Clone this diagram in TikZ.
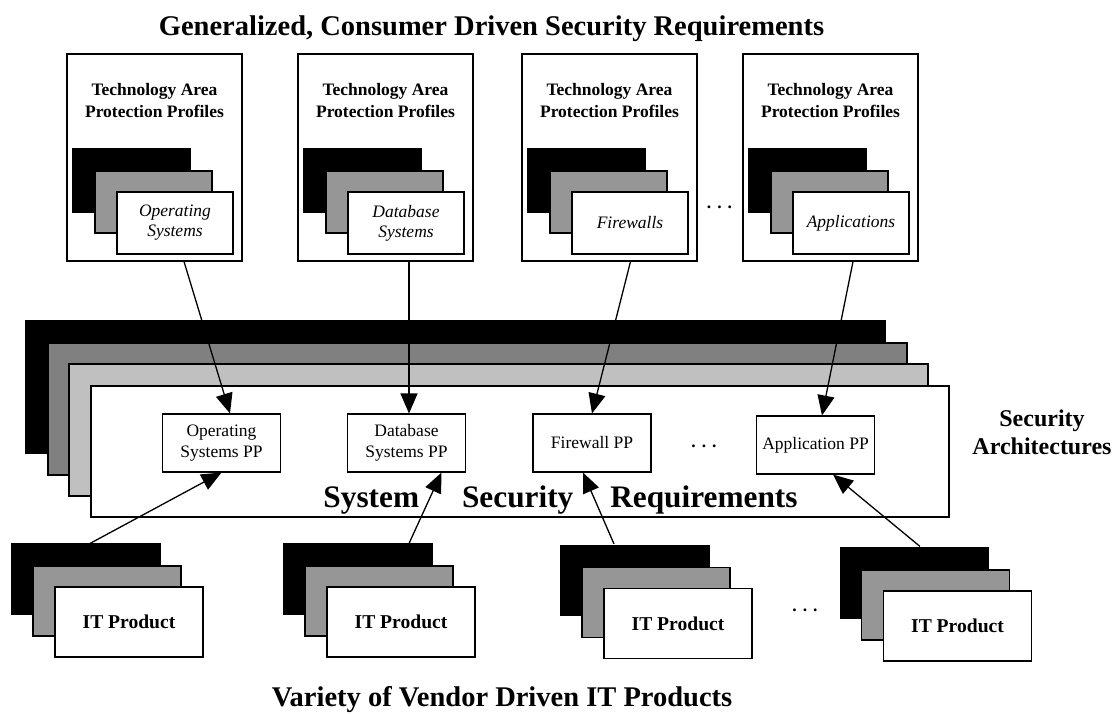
\documentclass[tikz,border=0pt]{standalone}
\usepackage{fontspec}
\setmainfont{Liberation Serif}
\usepackage{tikz}
\usetikzlibrary{arrows.meta}
\definecolor{card-gray}{RGB}{150,150,150}
\definecolor{layer-gray}{RGB}{128,128,128}
\definecolor{layer-light}{RGB}{192,192,192}
\tikzstyle{blackcard}=[fill=black, draw=black]
\tikzstyle{graycard}=[fill=card-gray, draw=black]
\tikzstyle{tapbox}=[draw, fill=white, minimum width=175pt, minimum height=207pt, inner sep=0pt]
\tikzstyle{taptext}=[align=center, inner sep=0pt, font=\bfseries\fontsize{17.5}{22}\selectfont]
\tikzstyle{areacard}=[draw, fill=white, minimum width=116pt, minimum height=62pt, inner sep=0pt, align=center, font=\itshape\fontsize{17.5}{20}\selectfont]
\tikzstyle{ppbox}=[draw, fill=white, minimum width=118pt, minimum height=58pt, inner sep=0pt, align=center, font=\fontsize{17.5}{21}\selectfont]
\tikzstyle{prodcard}=[draw, fill=white, minimum width=148pt, minimum height=70pt, inner sep=0pt, font=\bfseries\fontsize{19.6}{23}\selectfont]
\tikzstyle{moredots}=[inner sep=0pt, font=\bfseries\fontsize{17.5}{20}\selectfont]
\tikzstyle{headline}=[anchor=base, inner sep=0pt, font=\bfseries\fontsize{28.5}{34}\selectfont]
\tikzstyle{feed}=[-{Triangle[length=20pt, width=17pt]}, line width=1.3pt]

\begin{document}
\begin{tikzpicture}[x=1pt, y=-1pt, line width=1.1pt]
	\useasboundingbox (0,0) rectangle (1116,713);
	\node[headline] (toptitle) at (491.5,35) {Generalized, Consumer Driven Security Requirements};

	% technology area protection profiles
	\foreach \x/\n in {67/1,298/2,522/3,743/4} {
		\node[tapbox] (tap\n) at (\x+87.5,157.5) {};
		\node[taptext] (taptxt\n) at (\x+87.5,101) {Technology Area\\Protection Profiles};
		\filldraw[blackcard] (\x+6,149) rectangle ++(117,63);
		\filldraw[graycard] (\x+28,171) rectangle ++(117,62);
	}
	\node[areacard] (osCard) at (175,223) {Operating\\Systems};
	\node[areacard] (dbCard) at (406,223) {Database\\Systems};
	\node[areacard] (fwCard) at (630,223) {Firewalls};
	\node[areacard] (appCard) at (851,223) {Applications};
	\node[moredots] (topdots) at (719.5,207) {.\hspace{6pt}.\hspace{6pt}.};

	% layered security architectures
	\filldraw[blackcard] (26,321) rectangle (885,453);
	\filldraw[fill=layer-gray, draw=black] (48,343) rectangle (907,475);
	\filldraw[fill=layer-light, draw=black] (69,364) rectangle (928,496);
	\node[draw, fill=white, minimum width=858pt, minimum height=131pt, inner sep=0pt] (sysreq) at (520,451.5) {};
	\node[anchor=base, inner sep=0pt, font=\bfseries\fontsize{31.3}{36}\selectfont] (sysreqtxt) at (560.5,507) {System\hspace{43pt}Security\hspace{37pt}Requirements};
	\node[ppbox] (osPP) at (221.5,443) {Operating\\Systems PP};
	\node[ppbox] (dbPP) at (406.5,443) {Database\\Systems PP};
	\node[ppbox] (fwPP) at (592,443) {Firewall PP};
	\node[ppbox] (appPP) at (815.5,445) {Application PP};
	\node[moredots] (middots) at (704,446) {.\hspace{6pt}.\hspace{6pt}.};
	\node[align=center, inner sep=0pt, font=\bfseries\fontsize{24}{28}\selectfont] (secarch) at (1042,432) {Security\\Architectures};

	% vendor products
	\foreach \cx/\cy/\n in {129/622/1,401/622/2,678/623.5/3,957.5/626/4} {
		\filldraw[blackcard] (\cx-117,\cy-78) rectangle ++(148,70);
		\filldraw[graycard] (\cx-96,\cy-56) rectangle ++(148,70);
		\node[prodcard] (prod\n) at (\cx,\cy) {IT Product};
	}
	\node[moredots] (botdots) at (805,610) {.\hspace{6pt}.\hspace{6pt}.};
	\node[headline] (bottitle) at (502,706) {Variety of Vendor Driven IT Products};

	% profiles feed the architecture
	\draw[feed] ([xshift=29.5pt]tap1.south) -- ([xshift=8.5pt]osPP.north);
	\draw[feed] ([xshift=23.5pt]tap2.south) -- ([xshift=2.5pt]dbPP.north);
	\draw[feed] ([xshift=21pt]tap3.south) -- (fwPP.north);
	\draw[feed] ([xshift=22.5pt]tap4.south) -- ([xshift=6.5pt]appPP.north);
	\draw[feed] ([xshift=-39pt,yshift=43pt]prod1.north) -- (osPP.south);
	\draw[feed] ([xshift=8pt,yshift=43pt]prod2.north) -- ([xshift=35pt]dbPP.south);
	\draw[feed] ([xshift=-64pt,yshift=44pt]prod3.north) -- ([xshift=-9pt]fwPP.south);
	\draw[feed] ([xshift=-37.5pt,yshift=44pt]prod4.north) -- ([xshift=17.5pt]appPP.south);
\end{tikzpicture}
\end{document}
